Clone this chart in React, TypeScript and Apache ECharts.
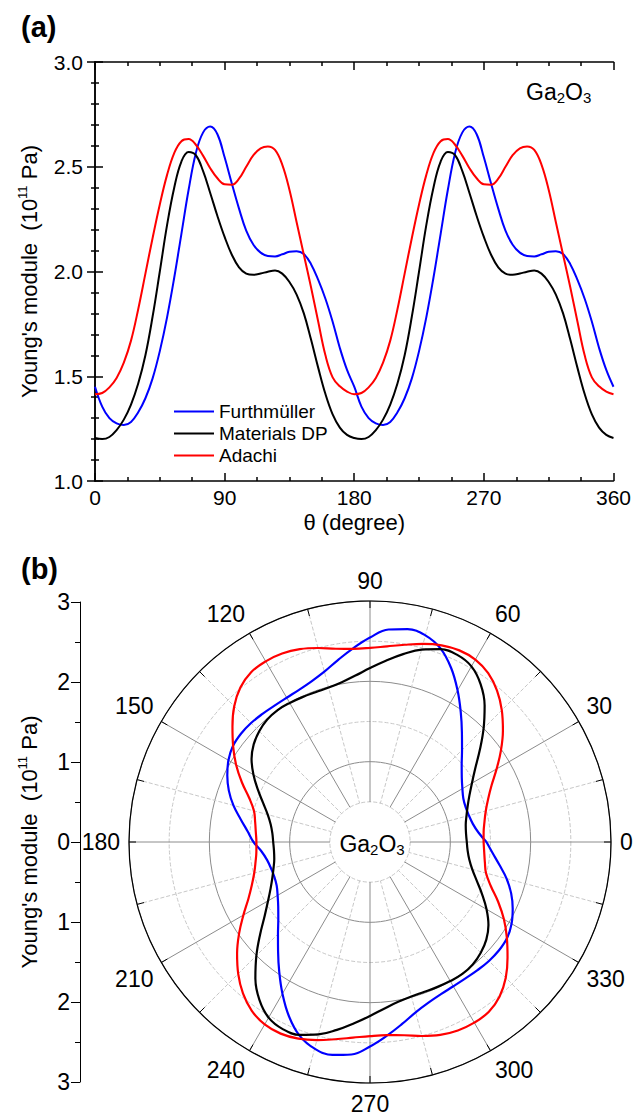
import React, { useEffect, useRef } from 'react';
import * as echarts from 'echarts';

const FONT = "'Liberation Sans', Arial, Helvetica, sans-serif";

// angle / theta (degree), 5-degree steps
const THETA = [
  0, 5, 10, 15, 20, 25, 30, 35, 40, 45, 50, 55, 60, 65, 70, 75, 80, 85, 90,
  95, 100, 105, 110, 115, 120, 125, 130, 135, 140, 145, 150, 155, 160, 165, 170, 175, 180,
  185, 190, 195, 200, 205, 210, 215, 220, 225, 230, 235, 240, 245, 250, 255, 260, 265, 270,
  275, 280, 285, 290, 295, 300, 305, 310, 315, 320, 325, 330, 335, 340, 345, 350, 355, 360,
];

// Young's module (10^11 Pa)
const FURTHMULLER = [
  1.45, 1.355, 1.30, 1.275, 1.267, 1.282, 1.328, 1.395, 1.49, 1.62, 1.78, 1.97, 2.18, 2.39, 2.565, 2.663, 2.692, 2.655, 2.545,
  2.42, 2.30, 2.195, 2.128, 2.09, 2.074, 2.072, 2.082, 2.094, 2.097, 2.083, 2.035, 1.96, 1.87, 1.76, 1.635, 1.53, 1.45,
  1.355, 1.30, 1.275, 1.267, 1.282, 1.328, 1.395, 1.49, 1.62, 1.78, 1.97, 2.18, 2.39, 2.565, 2.663, 2.692, 2.655, 2.545,
  2.42, 2.30, 2.195, 2.128, 2.09, 2.074, 2.072, 2.082, 2.094, 2.097, 2.083, 2.035, 1.96, 1.87, 1.76, 1.635, 1.53, 1.45,
];

const MATERIALS_DP = [
  1.205, 1.20, 1.21, 1.243, 1.293, 1.365, 1.465, 1.60, 1.785, 2.00, 2.22, 2.40, 2.525, 2.57, 2.555, 2.48, 2.375, 2.265, 2.165,
  2.08, 2.02, 1.99, 1.984, 1.99, 1.999, 2.005, 1.99, 1.95, 1.89, 1.80, 1.675, 1.54, 1.415, 1.318, 1.255, 1.22, 1.205,
  1.20, 1.21, 1.243, 1.293, 1.365, 1.465, 1.60, 1.785, 2.00, 2.22, 2.40, 2.525, 2.57, 2.555, 2.48, 2.375, 2.265, 2.165,
  2.08, 2.02, 1.99, 1.984, 1.99, 1.999, 2.005, 1.99, 1.95, 1.89, 1.80, 1.675, 1.54, 1.415, 1.318, 1.255, 1.22, 1.205,
];

const ADACHI = [
  1.414, 1.42, 1.447, 1.492, 1.565, 1.67, 1.82, 1.99, 2.16, 2.32, 2.46, 2.565, 2.622, 2.632, 2.605, 2.553, 2.493, 2.445, 2.416,
  2.414, 2.443, 2.50, 2.555, 2.588, 2.597, 2.58, 2.51, 2.39, 2.235, 2.08, 1.925, 1.76, 1.6, 1.495, 1.452, 1.427, 1.414,
  1.42, 1.447, 1.492, 1.565, 1.67, 1.82, 1.99, 2.16, 2.32, 2.46, 2.565, 2.622, 2.632, 2.605, 2.553, 2.493, 2.445, 2.416,
  2.414, 2.443, 2.50, 2.555, 2.588, 2.597, 2.58, 2.51, 2.39, 2.235, 2.08, 1.925, 1.76, 1.6, 1.495, 1.452, 1.427, 1.414,
];

const SERIES_NAMES = ['Furthmüller', 'Materials DP', 'Adachi'];
const SERIES_COLORS = ['#0000ff', '#000000', '#ff0000'];
const SERIES_VALUES = [FURTHMULLER, MATERIALS_DP, ADACHI];

const Y_TITLE = "Young's module  (10{sup|11} Pa)";
const X_TITLE = 'θ (degree)';

export default function App() {
  const ref = useRef<HTMLDivElement>(null);

  useEffect(() => {
    if (!ref.current) return;
    const chart = echarts.init(ref.current, undefined, { renderer: 'svg' });

    const tickLine = { color: '#000', width: 1.5 };
    const axisCommonA = {
      axisLine: { show: true, lineStyle: { color: '#000', width: 1.5 } },
      axisTick: { show: true, inside: true, length: 8, lineStyle: tickLine },
      splitLine: { show: false },
    };
    const titleStyle = {
      fontSize: 22,
      color: '#000',
      fontFamily: FONT,
      rich: { sup: { fontSize: 13, fontFamily: FONT, color: '#000', padding: [0, 0, 13, 0] } },
    };

    const lineSeries = SERIES_NAMES.map((name, k) => ({
      name,
      type: 'line',
      xAxisIndex: 0,
      yAxisIndex: 0,
      data: THETA.map((t, i) => [t, SERIES_VALUES[k][i]]),
      smooth: 0.4,
      symbol: 'none',
      lineStyle: { color: SERIES_COLORS[k], width: 2 },
      itemStyle: { color: SERIES_COLORS[k] },
      z: 3,
    }));

    const polarSeries = SERIES_NAMES.map((name, k) => ({
      name,
      type: 'line',
      coordinateSystem: 'polar',
      polarIndex: 0,
      data: THETA.map((t, i) => [SERIES_VALUES[k][i], t]),
      smooth: 0.4,
      symbol: 'none',
      lineStyle: { color: SERIES_COLORS[k], width: 2.2 },
      itemStyle: { color: SERIES_COLORS[k] },
      z: 5,
    }));

    const option: any = {
      animation: false,
      textStyle: { fontFamily: FONT },
      legend: {
        data: SERIES_NAMES,
        left: 169,
        top: 397,
        orient: 'vertical',
        icon: 'rect',
        itemWidth: 40,
        itemHeight: 2,
        itemGap: 3,
        selectedMode: false,
        textStyle: { fontSize: 19, lineHeight: 19, color: '#000', fontFamily: FONT },
      },
      grid: [
        { left: 95, top: 62, width: 520, height: 419 },
        { left: 80, top: 602, width: 1, height: 480 },
      ],
      xAxis: [
        {
          gridIndex: 0, type: 'value', min: 0, max: 360, interval: 90, position: 'bottom',
          ...axisCommonA,
          minorTick: { show: true, splitNumber: 4, length: 4, lineStyle: tickLine },
          axisLabel: { fontSize: 21, color: '#000', margin: 6, fontFamily: FONT },
          name: X_TITLE, nameLocation: 'middle', nameGap: 30, nameTextStyle: titleStyle,
        },
        {
          gridIndex: 0, type: 'value', min: 0, max: 360, interval: 90, position: 'top',
          ...axisCommonA,
          minorTick: { show: true, splitNumber: 4, length: 4, lineStyle: tickLine },
          axisLabel: { show: false },
        },
        { gridIndex: 1, type: 'value', show: false, min: 0, max: 1 },
      ],
      yAxis: [
        {
          gridIndex: 0, type: 'value', min: 1, max: 3, interval: 0.5, position: 'left',
          ...axisCommonA,
          minorTick: { show: true, splitNumber: 5, length: 4, lineStyle: tickLine },
          axisLabel: { fontSize: 21, color: '#000', margin: 12, fontFamily: FONT, formatter: (v: number) => v.toFixed(1) },
          name: Y_TITLE, nameLocation: 'middle', nameGap: 53, nameTextStyle: titleStyle,
        },
        {
          gridIndex: 0, type: 'value', min: 1, max: 3, interval: 0.5, position: 'right',
          ...axisCommonA,
          minorTick: { show: true, splitNumber: 5, length: 4, lineStyle: tickLine },
          axisLabel: { show: false },
        },
        {
          gridIndex: 1, type: 'value', min: -3, max: 3, interval: 1, position: 'left',
          axisLine: { show: true, lineStyle: { color: '#000', width: 1 } },
          axisTick: { show: true, inside: false, length: 9, lineStyle: { color: '#000', width: 1 } },
          minorTick: { show: true, splitNumber: 2, length: 5, lineStyle: { color: '#000', width: 1 } },
          splitLine: { show: false },
          axisLabel: { fontSize: 23, color: '#000', margin: 10, fontFamily: FONT, formatter: (v: number) => String(Math.abs(v)) },
          name: Y_TITLE, nameLocation: 'middle', nameGap: 38, nameTextStyle: titleStyle,
        },
      ],
      polar: [
        { center: [370, 842], radius: [0, 241] },
        { center: [370, 842], radius: [40, 241] },
      ],
      radiusAxis: [
        {
          polarIndex: 0, type: 'value', min: 0, max: 3, interval: 1, z: 0,
          axisLine: { show: false }, axisTick: { show: false }, axisLabel: { show: false },
          minorTick: { show: false, splitNumber: 2 },
          splitLine: { show: true, lineStyle: { color: '#8c8c8c', width: 1 } },
          minorSplitLine: { show: true, lineStyle: { color: '#c8c8c8', width: 1, type: 'dashed' } },
        },
        { polarIndex: 1, type: 'value', min: 0.5, max: 3, show: false },
      ],
      angleAxis: [
        {
          polarIndex: 0, type: 'value', min: 0, max: 360, interval: 30, startAngle: 0, clockwise: false, z: 3,
          axisLine: { show: true, lineStyle: { color: '#000', width: 1.2 } },
          axisTick: { show: true, inside: true, length: 7, lineStyle: { color: '#000', width: 1 } },
          minorTick: { show: true, splitNumber: 2, length: 7, lineStyle: { color: '#000', width: 1 } },
          axisLabel: {
            fontSize: 23, color: '#000', margin: 9, fontFamily: FONT,
            formatter: (v: number) => (v === 360 ? '' : String(v)),
          },
          splitLine: { show: false },
          minorSplitLine: { show: false },
        },
        {
          polarIndex: 1, type: 'value', min: 0, max: 360, interval: 30, startAngle: 0, clockwise: false, z: 1,
          axisLine: { show: false }, axisTick: { show: false }, axisLabel: { show: false },
          minorTick: { show: false, splitNumber: 2 },
          splitLine: { show: true, lineStyle: { color: '#8c8c8c', width: 1 } },
          minorSplitLine: { show: true, lineStyle: { color: '#c8c8c8', width: 1, type: 'dashed' } },
        },
      ],
      graphic: [
        { type: 'text', left: 21, top: 12, style: { text: '(a)', fontSize: 29, fontWeight: 'bold', fill: '#000', fontFamily: FONT } },
        { type: 'text', left: 21, top: 554, style: { text: '(b)', fontSize: 29, fontWeight: 'bold', fill: '#000', fontFamily: FONT } },
        {
          type: 'text', left: 526, top: 80,
          style: {
            text: 'Ga{sub|2}O{sub|3}', fontSize: 23, fill: '#000', fontFamily: FONT,
            rich: { sub: { fontSize: 15, fontFamily: FONT, fill: '#000', padding: [11, 0, 0, 0] } },
          },
        },
        {
          type: 'text', x: 372, y: 844,
          style: {
            text: 'Ga{sub|2}O{sub|3}', fontSize: 23, fill: '#000', fontFamily: FONT, align: 'center', verticalAlign: 'middle',
            rich: { sub: { fontSize: 15, fontFamily: FONT, fill: '#000', padding: [11, 0, 0, 0] } },
          },
          z: 10,
        },
      ],
      series: [...lineSeries, ...polarSeries],
    };

    chart.setOption(option);
    return () => chart.dispose();
  }, []);

  return <div ref={ref} style={{ position: 'absolute', left: 0, top: 0, width: 634, height: 1117, background: '#fff' }} />;
}
